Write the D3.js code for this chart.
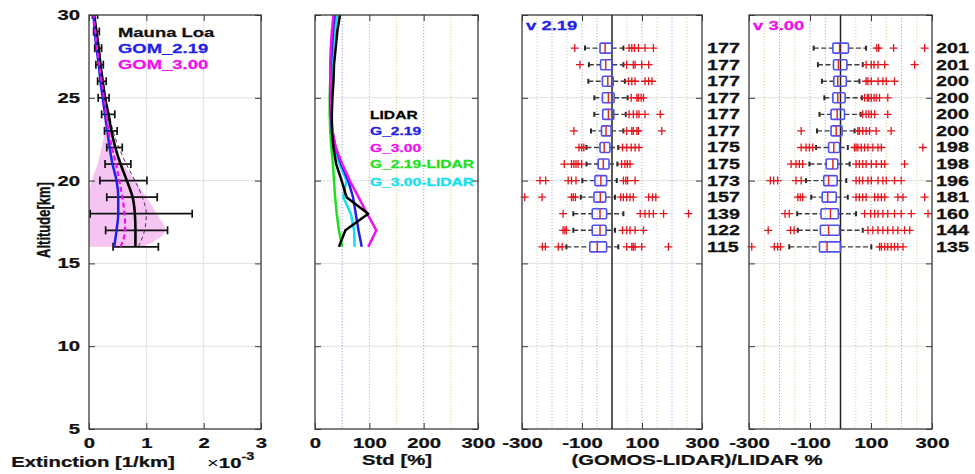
<!DOCTYPE html>
<html><head><meta charset="utf-8">
<script src="https://cdn.jsdelivr.net/npm/d3@7"></script>
<style>body{margin:0;background:#fff}svg{display:block}</style>
</head><body><svg id="c" width="975" height="474"></svg>
<script>
// ---------------- data ----------------
const altitudes = [16,17,18,19,20,21,22,23,24,25,26,27,28,29,30];

// panel 1 : extinction (x 1e-3 /km)
const lidarMean    = [0.81,0.81,0.80,0.76,0.66,0.55,0.46,0.39,0.34,0.28,0.24,0.20,0.17,0.13,0.09];
const lidarErrLow  = [0.42,0.29,0.02,0.31,0.19,0.28,0.31,0.27,0.22,0.16,0.15,0.12,0.10,0.08,0.06];
const lidarErrHigh = [1.21,1.37,1.80,1.19,1.01,0.73,0.58,0.49,0.45,0.35,0.30,0.25,0.22,0.18,0.15];
const lidarSmoothed= [0.86,0.97,1.00,0.93,0.80,0.65,0.52,0.42,0.35,0.29,0.24,0.20,0.16,0.12,0.09];
const gom219Mean   = [0.44,0.48,0.51,0.51,0.48,0.41,0.36,0.32,0.28,0.24,0.20,0.17,0.13,0.10,0.08];
const gom300Mean   = [0.55,0.63,0.62,0.58,0.53,0.47,0.40,0.34,0.30,0.26,0.22,0.18,0.14,0.11,0.08];
const gom300Low    = [0.00,0.00,0.00,0.00,0.05,0.15,0.22,0.27,0.25,0.21,0.18,0.15,0.11,0.08,0.06];
const gom300High   = [0.95,1.33,1.18,1.00,0.80,0.60,0.45,0.37,0.33,0.29,0.25,0.21,0.17,0.13,0.10];

// panel 2 : standard deviation (%)
const stdLidar    = [44,56,98,58,49,39,34,31,31,32,34,35,38,41,46];
const stdG219     = [86,80,75,70,61,48,38,32,29,28,28,29,31,33,36];
const stdG300     = [98,113,96,80,64,50,38,32,30,29,28,28,29,31,34];
const stdG219Lidar= [50,44,40,37,35,33,30,28,27,27,28,29,31,34,38];
const stdG300Lidar= [73,72,66,52,58,45,36,31,29,29,30,31,33,37,41];

// panels 3/4 : relative differences (%) per altitude row
const boxAltitudes = [28,27,26,25,24,23,22,21,20,19,18,17,16];

const v219Q1  = [-40,-38,-32,-32,-31,-35,-40,-46,-57,-60,-66,-66,-74];
const v219Med = [-23,-21,-14,-12,-12,-20,-26,-29,-37,-39,-40,-40,-49];
const v219Q3  = [-1,1,4,7,6,-3,-7,-10,-18,-21,-18,-20,-18];
const v219WLo = [-90,-77,-79,-59,-59,-70,-85,-85,-99,-104,-129,-129,-152];
const v219WHi = [38,38,43,52,46,38,21,18,16,10,38,10,21];
const v219Out = [
  [-124,57,66,75,88,110,138],
  [-107,49,71,77,99,122],
  [55,66,77,110,122,133],
  [64,83,88,97,105],
  [57,71,83,90,110,161],
  [-127,49,66,71,83,88,166],
  [-110,-101,-94,35,49,64,77,90],
  [-159,-135,-127,-120,-113,-101,32,43,51,60],
  [-240,-221,-146,-135,-120,38,46,52,77],
  [-291,-233,-135,-129,-122,29,38,49,60,71,122,135,146],
  [-163,94,110,124,138,172,255],
  [-163,-157,-152,35,49,60,77,105],
  [-232,-222,-179,-166,49,66,71,77,99,188]
];
const v219N = [177,177,177,177,177,177,175,175,173,157,139,122,115];

const v300Q1  = [-25,-23,-22,-25,-31,-31,-39,-47,-55,-60,-64,-66,-69];
const v300Med = [-3,-7,-9,-9,-11,-14,-22,-25,-39,-42,-33,-39,-44];
const v300Q3  = [26,21,19,15,13,5,-3,-9,-11,-14,-7,-3,0];
const v300WLo = [-88,-74,-61,-53,-69,-77,-80,-102,-113,-96,-142,-140,-168];
const v300WHi = [84,73,62,70,66,46,24,30,19,24,51,73,101];
const v300Out = [
  [119,125,174,276],
  [84,101,110,123,145,243],
  [84,90,101,123,139,150,177],
  [79,88,93,101,110,117,128,155],
  [73,84,93,101,112,155],
  [-129,57,62,73,84,95,117,166],
  [-129,-113,-102,-91,46,51,57,68,79,90,106,123,134,270],
  [-162,-146,-135,-124,51,62,73,84,101,117,134,145,210],
  [-230,-219,-206,-146,-129,51,62,73,90,101,123,139,150,177,199],
  [-140,-132,-124,51,62,73,84,112,123,134,145,188,205,276],
  [-182,-168,79,99,112,123,139,155,177,199,232,287],
  [-237,-164,-152,90,106,123,139,155,172,188,210,227],
  [-291,-217,-206,-197,128,134,145,155,166,177,188,205]
];
const v300N = [201,201,200,200,200,200,198,198,196,181,160,144,135];

const extTicks  = [0,1,2,3];
const altTicks  = [5,10,15,20,25,30];
const stdTicks  = [0,100,200,300];
const diffTicks = [-300,-100,100,300];

// ---------------- drawing ----------------
const SX = 1.45;
const FONT = '"Liberation Sans", Arial, Helvetica, sans-serif';
const AXC = '#3a3a3a';
const TXC = '#111';
const BLUE = '#2222e6', MAG = '#ee10ee', GREEN = '#1fe01f', CYAN = '#10e0f0';

const svg = d3.select('#c');
const y = d3.scaleLinear().domain([5,30]).range([429,15]);
const x1 = d3.scaleLinear().domain([0,3]).range([89,261]);
const x2 = d3.scaleLinear().domain([0,300]).range([315,478]);
const x3 = d3.scaleLinear().domain([-300,300]).range([522,702]);
const x4 = d3.scaleLinear().domain([-300,300]).range([749,932]);

function label(x, yy, s, o = {}) {
  const t = svg.append('text')
    .attr('transform', `translate(${x},${yy}) scale(${o.sx || SX},1)` + (o.rotate ? ` rotate(${o.rotate})` : ''))
    .attr('text-anchor', o.anchor || 'start')
    .attr('font-family', FONT).attr('font-weight', 'bold')
    .attr('font-size', o.size || 14).attr('fill', o.color || TXC)
    .attr('stroke', o.color || TXC).attr('stroke-width', 0.25);
  t.text(s);
  return t;
}

function hGrid(xs) {
  const [a, b] = xs.range();
  svg.append('g').selectAll('line').data([10,15,20,25]).join('line')
    .attr('x1', a).attr('x2', b).attr('y1', d => y(d)).attr('y2', d => y(d))
    .attr('stroke', '#e0e0e0').attr('stroke-width', 1);
}
function vDotted(xs, vals, colorFn) {
  const [yb, yt] = y.range();
  svg.append('g').selectAll('line').data(vals).join('line')
    .attr('x1', d => xs(d)).attr('x2', d => xs(d)).attr('y1', yt).attr('y2', yb)
    .attr('stroke', colorFn).attr('stroke-width', 1).attr('stroke-dasharray', '1.2,1.8');
}

function frame(xs, xTickVals, showY) {
  const [x0, xe] = xs.range();
  const [yb, yt] = y.range();
  const styleTicks = g => { g.select('.domain').remove(); g.selectAll('line').attr('stroke', AXC).attr('stroke-width', 1); };
  const tstyle = sel => sel.attr('font-family', FONT).attr('font-size', 14).attr('font-weight', 'bold')
    .attr('fill', TXC).attr('stroke', TXC).attr('stroke-width', 0.25);
  const gb = svg.append('g').attr('transform', `translate(0,${yb})`)
    .call(d3.axisBottom(xs).tickValues(xTickVals).tickSize(-6).tickSizeOuter(0).tickPadding(9).tickFormat(d => String(d)));
  styleTicks(gb);
  gb.selectAll('text').call(tstyle).attr('transform', `scale(${SX},1)`);
  const gt = svg.append('g').attr('transform', `translate(0,${yt})`)
    .call(d3.axisTop(xs).tickValues(xTickVals).tickSize(-6).tickSizeOuter(0).tickFormat(''));
  styleTicks(gt);
  const gl = svg.append('g').attr('transform', `translate(${x0},0)`)
    .call(d3.axisLeft(y).tickValues(altTicks).tickSize(-6).tickSizeOuter(0).tickFormat(showY ? (d => String(d)) : ''));
  styleTicks(gl);
  if (showY) {
    gl.selectAll('text').call(tstyle).attr('x', -9 / SX).attr('transform', `scale(${SX},1)`);
  }
  const gr = svg.append('g').attr('transform', `translate(${xe},0)`)
    .call(d3.axisRight(y).tickValues(altTicks).tickSize(-6).tickSizeOuter(0).tickFormat(''));
  styleTicks(gr);
  svg.append('rect').attr('x', x0).attr('y', yt).attr('width', xe - x0).attr('height', yb - yt)
    .attr('fill', 'none').attr('stroke', AXC).attr('stroke-width', 1.3);
}

// ---------- panel 1 ----------
svg.append('clipPath').attr('id', 'clip1').append('rect')
  .attr('x', 89).attr('y', 15).attr('width', 172).attr('height', 414);
hGrid(x1);
svg.append('g').selectAll('line').data([1,2]).join('line')
  .attr('x1', d => x1(d)).attr('x2', d => x1(d)).attr('y1', 15).attr('y2', 429)
  .attr('stroke', '#e0e0e0');
const p1 = svg.append('g').attr('clip-path', 'url(#clip1)');
const rows1 = altitudes.map((a, i) => ({a, i}));
p1.append('path').datum(rows1)
  .attr('d', d3.area().curve(d3.curveMonotoneY).y(d => y(d.a)).x0(d => x1(gom300Low[d.i])).x1(d => x1(gom300High[d.i])))
  .attr('fill', '#f6c4f2').attr('stroke', 'none');
const line1 = arr => d3.line().curve(d3.curveMonotoneY).y(d => y(d.a)).x(d => x1(arr[d.i]));
p1.append('path').datum(rows1).attr('d', line1(lidarSmoothed))
  .attr('fill', 'none').attr('stroke', '#4e2f58').attr('stroke-width', 1).attr('stroke-dasharray', '4,3');
p1.append('path').datum(rows1).attr('d', line1(lidarMean))
  .attr('fill', 'none').attr('stroke', '#000').attr('stroke-width', 2.6);
const eb = p1.append('g').attr('stroke', '#111').attr('stroke-width', 1.7);
eb.selectAll('line.h').data(rows1).join('line').attr('class', 'h')
  .attr('x1', d => x1(lidarErrLow[d.i])).attr('x2', d => x1(lidarErrHigh[d.i]))
  .attr('y1', d => y(d.a)).attr('y2', d => y(d.a));
eb.selectAll('line.l').data(rows1).join('line').attr('class', 'l')
  .attr('x1', d => x1(lidarErrLow[d.i])).attr('x2', d => x1(lidarErrLow[d.i]))
  .attr('y1', d => y(d.a) - 4).attr('y2', d => y(d.a) + 4);
eb.selectAll('line.r').data(rows1).join('line').attr('class', 'r')
  .attr('x1', d => x1(lidarErrHigh[d.i])).attr('x2', d => x1(lidarErrHigh[d.i]))
  .attr('y1', d => y(d.a) - 4).attr('y2', d => y(d.a) + 4);
p1.append('path').datum(rows1).attr('d', line1(gom219Mean))
  .attr('fill', 'none').attr('stroke', BLUE).attr('stroke-width', 2.5);
p1.append('path').datum(rows1).attr('d', line1(gom300Mean))
  .attr('fill', 'none').attr('stroke', MAG).attr('stroke-width', 2.2).attr('stroke-dasharray', '5,3');
frame(x1, extTicks, true);
label(118, 37, 'Mauna Loa', {size: 13, sx: 1.42});
label(118, 53, 'GOM_2.19', {size: 13, sx: 1.42, color: BLUE});
label(118, 69, 'GOM_3.00', {size: 13, sx: 1.42, color: MAG});
label(93, 467, 'Extinction [1/km]', {anchor: 'middle'});
const ex = label(207, 468, '', {});
ex.append('tspan').attr('font-weight', 'normal').attr('stroke-width', 0).text('×');
ex.append('tspan').text('10');
ex.append('tspan').attr('font-size', 10).attr('dy', -8).text('-3');
label(50, 220, 'Altitude[km]', {anchor: 'middle', size: 13, rotate: -90});

// ---------- panel 2 ----------
hGrid(x2);
const dotCol2 = {50: '#8e9ed6', 100: '#e3a9c6', 150: '#e2d493', 200: '#a4aecb', 250: '#e2d493'};
vDotted(x2, [50,100,150,200,250], d => dotCol2[d]);
const line2 = arr => d3.line().y(d => y(d.a)).x(d => x2(arr[d.i]));
[[stdG219Lidar, GREEN], [stdG300Lidar, CYAN], [stdG219, BLUE], [stdG300, MAG], [stdLidar, '#000']].forEach(([arr, c]) => {
  svg.append('path').datum(rows1).attr('d', line2(arr))
    .attr('fill', 'none').attr('stroke', c).attr('stroke-width', 2.5).attr('stroke-linejoin', 'round');
});
frame(x2, stdTicks, false);
const leg2 = [['LIDAR', '#000'], ['G_2.19', BLUE], ['G_3.00', MAG], ['G_2.19-LIDAR', GREEN], ['G_3.00-LIDAR', CYAN]];
const leg2Y = [119, 135, 152, 168, 186];
leg2.forEach(([s, c], i) => label(370, leg2Y[i], s, {size: 11, sx: 1.42, color: c}));
label(397, 465, 'Std [%]', {anchor: 'middle'});

// ---------- panels 3 & 4 ----------
function boxPanel(xs, q1, med, q3, wlo, whi, outs, ns, title, tcolor, nx) {
  hGrid(xs);
  const blueish = new Set([-200, -100, -50, 100, 200]);
  vDotted(xs, [-250,-200,-150,-100,-50,50,100,150,200,250], d => blueish.has(d) ? '#a6b0cd' : '#ddd09c');
  const [yb, yt] = y.range();
  svg.append('line').attr('x1', xs(0)).attr('x2', xs(0)).attr('y1', yt).attr('y2', yb)
    .attr('stroke', '#222').attr('stroke-width', 1.5);
  const rows = boxAltitudes.map((a, i) => ({a, i}));
  const g = svg.append('g');
  const wk = g.append('g').attr('stroke', '#3c3c3c').attr('stroke-width', 1.4).attr('stroke-dasharray', '5,2.5');
  wk.selectAll('line.lo').data(rows).join('line').attr('class', 'lo')
    .attr('x1', d => xs(wlo[d.i])).attr('x2', d => xs(q1[d.i])).attr('y1', d => y(d.a)).attr('y2', d => y(d.a));
  wk.selectAll('line.hi').data(rows).join('line').attr('class', 'hi')
    .attr('x1', d => xs(q3[d.i])).attr('x2', d => xs(whi[d.i])).attr('y1', d => y(d.a)).attr('y2', d => y(d.a));
  const caps = g.append('g').attr('stroke', '#2a2a2a').attr('stroke-width', 2);
  caps.selectAll('line.cl').data(rows).join('line').attr('class', 'cl')
    .attr('x1', d => xs(wlo[d.i])).attr('x2', d => xs(wlo[d.i])).attr('y1', d => y(d.a) - 2.5).attr('y2', d => y(d.a) + 2.5);
  caps.selectAll('line.ch').data(rows).join('line').attr('class', 'ch')
    .attr('x1', d => xs(whi[d.i])).attr('x2', d => xs(whi[d.i])).attr('y1', d => y(d.a) - 2.5).attr('y2', d => y(d.a) + 2.5);
  g.selectAll('rect.box').data(rows).join('rect').attr('class', 'box')
    .attr('x', d => xs(q1[d.i])).attr('width', d => xs(q3[d.i]) - xs(q1[d.i]))
    .attr('y', d => y(d.a) - 5).attr('height', 10).attr('rx', 1.2)
    .attr('fill', 'none').attr('stroke', '#4f4ff2').attr('stroke-width', 1.6);
  g.selectAll('line.med').data(rows).join('line').attr('class', 'med')
    .attr('x1', d => xs(med[d.i])).attr('x2', d => xs(med[d.i]))
    .attr('y1', d => y(d.a) - 5).attr('y2', d => y(d.a) + 5)
    .attr('stroke', '#dd2a2a').attr('stroke-width', 1.5);
  const pts = [];
  rows.forEach(r => outs[r.i].forEach(v => pts.push({a: r.a, v})));
  const og = g.append('g').attr('stroke', '#e3141c').attr('stroke-width', 1.3);
  og.selectAll('path').data(pts).join('path')
    .attr('d', d => { const px = xs(d.v), py = y(d.a); return `M${px - 4},${py}H${px + 4}M${px},${py - 4}V${py + 4}`; })
    .attr('fill', 'none');
  frame(xs, diffTicks, false);
  label(xs.range()[0] + 4, 30, title, {size: 13, sx: 1.42, color: tcolor});
  rows.forEach(r => label(nx, y(r.a) + 5, String(ns[r.i]), {sx: 1.41}));
}
boxPanel(x3, v219Q1, v219Med, v219Q3, v219WLo, v219WHi, v219Out, v219N, 'v 2.19', BLUE, 707);
boxPanel(x4, v300Q1, v300Med, v300Q3, v300WLo, v300WHi, v300Out, v300N, 'v 3.00', MAG, 936);
label(697, 465, '(GOMOS-LIDAR)/LIDAR %', {anchor: 'middle'});
</script></body></html>
